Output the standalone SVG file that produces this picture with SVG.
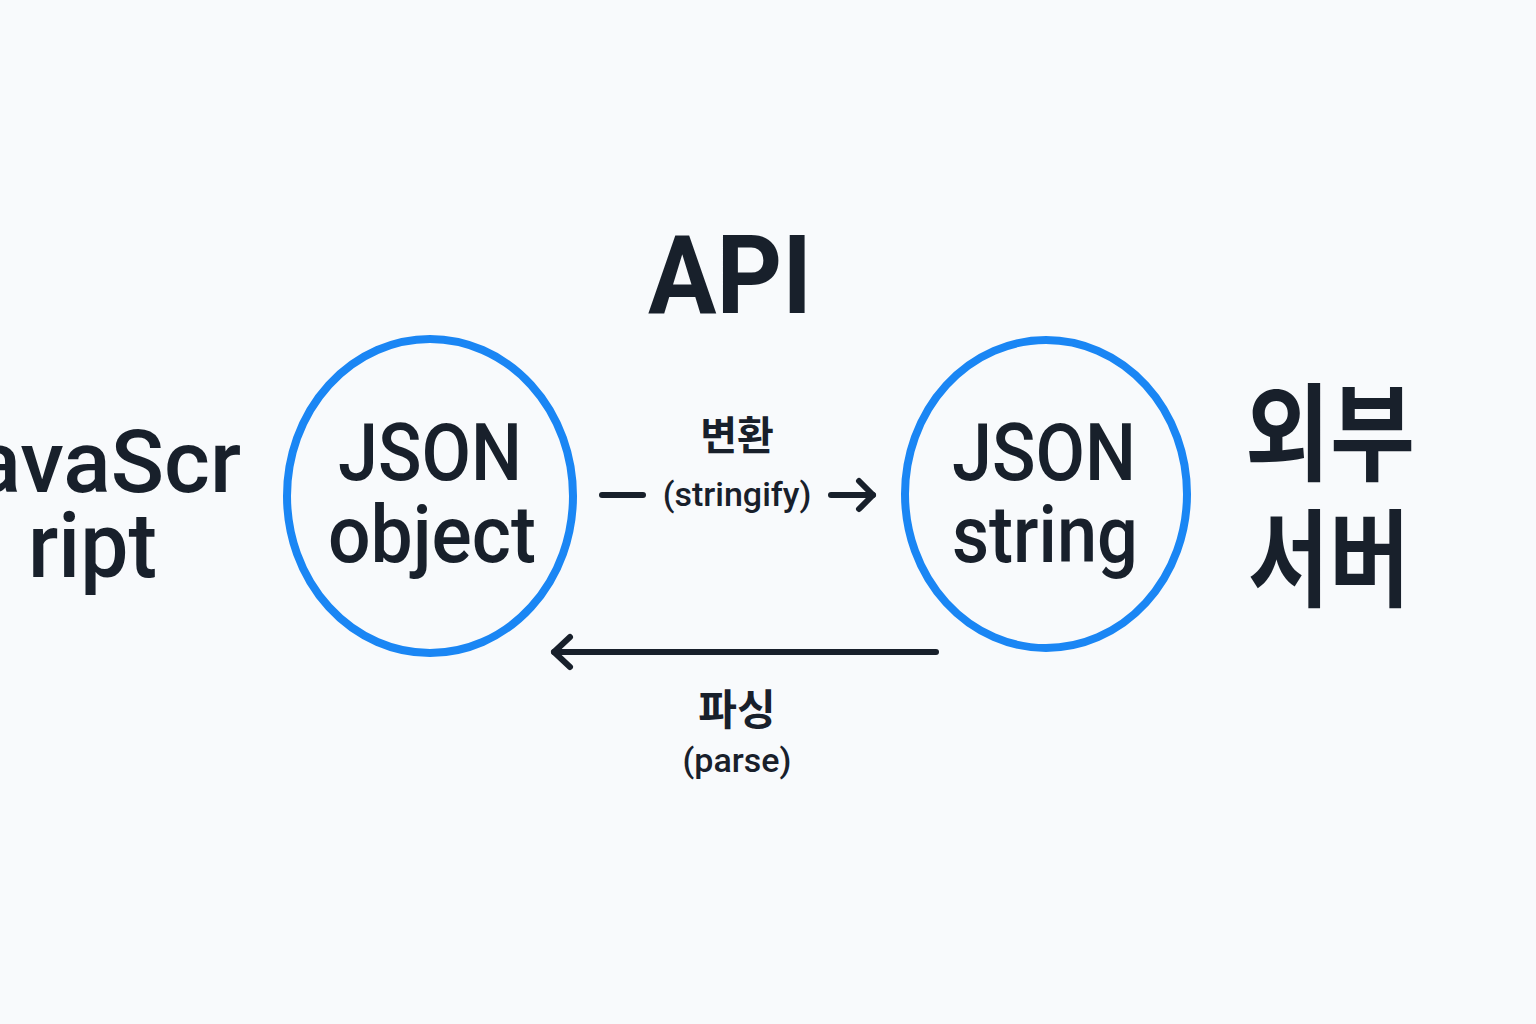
<svg xmlns="http://www.w3.org/2000/svg" width="1536" height="1024" viewBox="0 0 1536 1024">
<style>
.t{fill:#18202b;font-family:"Roboto","Liberation Sans","Noto Sans CJK KR",sans-serif;}
.k{fill:#18202b;font-family:"Noto Sans CJK KR",sans-serif;font-weight:700;}
.node{fill:none;stroke:#1a86f4;stroke-width:8;}
.conn{fill:none;stroke:#18202b;stroke-width:6;stroke-linecap:round;stroke-linejoin:round;}
</style>
<rect width="1536" height="1024" fill="#f8fafc"/>
<g id="api"><text class="t" x="730" y="313" font-size="110" font-weight="700" text-anchor="middle" textLength="164" lengthAdjust="spacingAndGlyphs">API</text></g>
<g id="javascript">
<text class="t" x="241" y="492" font-size="88" font-weight="500" text-anchor="end">avaScr</text>
<text class="t" x="28" y="577" font-size="90" font-weight="500" textLength="129" lengthAdjust="spacingAndGlyphs">ript</text>
</g>
<g id="json-object">
<ellipse class="node" cx="430" cy="496" rx="143" ry="157"/>
<text class="t" x="338" y="480" font-size="80" font-weight="500" textLength="184" lengthAdjust="spacingAndGlyphs">JSON</text>
<text class="t" x="328" y="562" font-size="80" font-weight="500" textLength="208" lengthAdjust="spacingAndGlyphs">object</text>
</g>
<g id="json-string">
<ellipse class="node" cx="1046" cy="494" rx="141" ry="154"/>
<text class="t" x="952" y="480" font-size="80" font-weight="500" textLength="184" lengthAdjust="spacingAndGlyphs">JSON</text>
<text class="t" x="952" y="562" font-size="80" font-weight="500" textLength="186" lengthAdjust="spacingAndGlyphs">string</text>
</g>
<g id="external-server">
<text class="k" x="1245" y="472" font-size="106" textLength="170" lengthAdjust="spacingAndGlyphs">외부</text>
<text class="k" x="1248" y="598" font-size="106" textLength="162" lengthAdjust="spacingAndGlyphs">서버</text>
</g>
<g id="connectors">
<line class="conn" x1="602" y1="495" x2="643" y2="495"/>
<line class="conn" x1="831" y1="495" x2="873" y2="495"/>
<polyline class="conn" points="859,481 873,495 859,509"/>
<line class="conn" x1="936" y1="652" x2="554" y2="652"/>
<polyline class="conn" points="570,637 554,652 570,667"/>
</g>
<g id="labels">
<text class="k" x="737" y="450" font-size="40" text-anchor="middle">변환</text>
<text class="t" x="737" y="506" font-size="34" font-weight="500" text-anchor="middle">(stringify)</text>
<text class="k" x="737" y="725" font-size="42" text-anchor="middle">파싱</text>
<text class="t" x="737" y="772" font-size="34" font-weight="500" text-anchor="middle">(parse)</text>
</g>
</svg>
